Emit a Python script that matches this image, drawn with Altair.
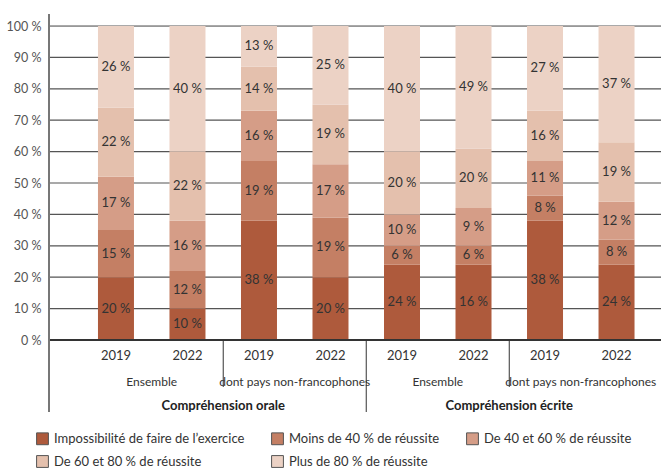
import altair as alt
import pandas as pd

# ---- data -------------------------------------------------------------
years = ["2019", "2022", "2019", "2022", "2019", "2022", "2019", "2022"]
subgroup_names = ["Ensemble", "dont pays non-francophones", "Ensemble", "dont pays non-francophones"]
group_names = ["Compréhension orale", "Compréhension écrite"]
categories = [
    "Impossibilité de faire de l’exercice",
    "Moins de 40 % de réussite",
    "De 40 et 60 % de réussite",
    "De 60 et 80 % de réussite",
    "Plus de 80 % de réussite",
]
colors = ["#AE5A3C", "#C47F64", "#D59D87", "#E4C0AD", "#ECD2C5"]
y_ticks = [0, 10, 20, 30, 40, 50, 60, 70, 80, 90, 100]

# segment heights as drawn (bottom to top), one value per bar
impossible = [20, 10, 38, 20, 24, 24, 38, 24]
lt40 = [15, 12, 19, 19, 6, 6, 8, 8]
r40_60 = [17, 16, 16, 17, 10, 12, 11, 12]
r60_80 = [22, 22, 14, 19, 20, 19, 16, 19]
gt80 = [26, 40, 13, 25, 40, 39, 27, 37]

# printed labels
impossible_lbl = [20, 10, 38, 20, 24, 16, 38, 24]
lt40_lbl = [15, 12, 19, 19, 6, 6, 8, 8]
r40_60_lbl = [17, 16, 16, 17, 10, 9, 11, 12]
r60_80_lbl = [22, 22, 14, 19, 20, 20, 16, 19]
gt80_lbl = [26, 40, 13, 25, 40, 49, 27, 37]

values = [impossible, lt40, r40_60, r60_80, gt80]
labels = [impossible_lbl, lt40_lbl, r40_60_lbl, r60_80_lbl, gt80_lbl]

rows = []
for i in range(len(years)):
    for c, cat in enumerate(categories):
        rows.append({"pos": i, "cat": cat, "order": c,
                     "value": values[c][i], "label": f"{labels[c][i]} %"})
df = pd.DataFrame(rows)
bars_df = pd.DataFrame({"pos": list(range(len(years))), "year": years})
sub_df = pd.DataFrame({"pos": [0.5, 2.5, 4.5, 6.5], "name": subgroup_names})
grp_df = pd.DataFrame({"pos": [1.5, 5.5], "name": group_names})
subsep_df = pd.DataFrame({"pos": [1.5, 5.5]})
grpsep_df = pd.DataFrame({"pos": [3.5]})
grid_df = pd.DataFrame({"v": y_ticks})

W, H = 612, 314
xscale = alt.Scale(domain=[-0.8666, 7.552], nice=False, zero=False)
yscale = alt.Scale(domain=[0, 100], nice=False)
FONT = "Lato"
yaxis = alt.Axis(values=y_ticks, labelExpr="datum.value + ' %'",
                 grid=False, domain=False, ticks=False, labelOverlap=False,
                 labelColor="#555555", labelFontSize=12.5,
                 labelPadding=8, title=None, labelFont=FONT)

grid = alt.Chart(grid_df).mark_rule(color="#555555", strokeWidth=1.2).encode(
    y=alt.Y("v:Q", scale=yscale, axis=yaxis),
    x=alt.value(0), x2=alt.value(W),
)

base = alt.Chart(df).transform_stack(
    stack="value", groupby=["pos"], sort=[alt.SortField("order", order="ascending")],
    as_=["y0", "y1"]
).transform_calculate(mid="(datum.y0 + datum.y1) / 2")

bars = base.mark_bar(size=36).encode(
    x=alt.X("pos:Q", scale=xscale, axis=None),
    y=alt.Y("y0:Q", scale=yscale, axis=yaxis),
    y2="y1:Q",
    color=alt.Color("cat:N", scale=alt.Scale(domain=categories, range=colors),
                    sort=categories,
                    legend=alt.Legend(orient="none", legendX=-13, legendY=406,
                                      direction="horizontal", columns=3, title=None,
                                      symbolType="square", symbolSize=140,
                                      symbolStrokeColor="#555555", symbolStrokeWidth=1,
                                      labelFontSize=13, labelColor="#333333",
                                      labelFont=FONT, labelOffset=5,
                                      columnPadding=24, rowPadding=6, labelLimit=300)),
    order=alt.Order("order:Q"),
)

texts = base.mark_text(fontSize=13, color="#333333", font=FONT, baseline="middle").encode(
    x=alt.X("pos:Q", scale=xscale, axis=None),
    y=alt.Y("mid:Q", scale=yscale, axis=yaxis),
    text="label:N",
)

baseline = alt.Chart(bars_df).mark_rule(color="#333333", strokeWidth=2).encode(
    x=alt.value(0), x2=alt.value(W), y=alt.value(H)
)
yaxis_line = alt.Chart(bars_df).mark_rule(color="#777777", strokeWidth=1.5).encode(
    x=alt.value(0), y=alt.value(-12), y2=alt.value(386)
)
year_text = alt.Chart(bars_df).mark_text(fontSize=13, color="#333333", font=FONT,
                                         baseline="middle").encode(
    x=alt.X("pos:Q", scale=xscale, axis=None), y=alt.value(330), text="year:N"
)
sub_text = alt.Chart(sub_df).mark_text(fontSize=12, color="#333333", font=FONT,
                                       baseline="middle").encode(
    x=alt.X("pos:Q", scale=xscale, axis=None), y=alt.value(356), text="name:N"
)
grp_text = alt.Chart(grp_df).mark_text(fontSize=13, color="#222222", font=FONT,
                                       fontWeight="bold", baseline="middle").encode(
    x=alt.X("pos:Q", scale=xscale, axis=None), y=alt.value(380), text="name:N"
)
sub_sep = alt.Chart(subsep_df).mark_rule(color="#333333", strokeWidth=1).encode(
    x=alt.X("pos:Q", scale=xscale, axis=None), y=alt.value(H), y2=alt.value(361)
)
grp_sep = alt.Chart(grpsep_df).mark_rule(color="#333333", strokeWidth=1).encode(
    x=alt.X("pos:Q", scale=xscale, axis=None), y=alt.value(H), y2=alt.value(386)
)

chart = alt.layer(
    grid, bars, texts, baseline, yaxis_line, year_text, sub_text, grp_text, sub_sep, grp_sep
).properties(
    width=W, height=H, autosize="none",
    padding={"left": 49, "top": 26, "right": 0, "bottom": 132},
).configure_view(stroke=None).configure(font=FONT)

chart.save("out.html", embed_options={"renderer": "svg", "actions": False})
